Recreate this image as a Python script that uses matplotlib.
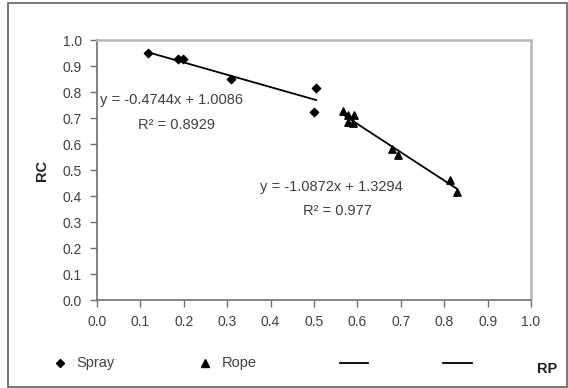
import matplotlib
matplotlib.use("Agg")
import matplotlib.pyplot as plt
from matplotlib.lines import Line2D
from matplotlib.patches import Rectangle
import numpy as np

plt.rcParams['font.family'] = ['Liberation Sans', 'DejaVu Sans']

# Data
spray_x = [0.117, 0.187, 0.198, 0.309, 0.505, 0.500]
spray_y = [0.950, 0.927, 0.927, 0.850, 0.815, 0.723]
rope_x = [0.567, 0.578, 0.592, 0.578, 0.590, 0.680, 0.694, 0.813, 0.830]
rope_y = [0.727, 0.712, 0.712, 0.685, 0.680, 0.580, 0.558, 0.460, 0.415]
spray_fit = (-0.4744, 1.0086)
rope_fit = (-1.0872, 1.3294)
spray_eq = "y = -0.4744x + 1.0086"
spray_r2 = "R² = 0.8929"
rope_eq = "y = -1.0872x + 1.3294"
rope_r2 = "R² = 0.977"
ticks = [round(0.1 * i, 1) for i in range(11)]
tick_labels = [f"{t:.1f}" for t in ticks]

W, H = 568, 388
fig = plt.figure(figsize=(W / 100, H / 100), dpi=100)
fig.patch.set_facecolor('white')

# outer border
fig.add_artist(Rectangle((8 / W, 1.5 / H), (W - 9.5) / W, (H - 4.5) / H,
                         transform=fig.transFigure, fill=False,
                         edgecolor='#606060', linewidth=1.2))

ax = fig.add_axes([97 / W, (H - 300) / H, 434 / W, 260 / H])
ax.set_xlim(0, 1)
ax.set_ylim(0, 1)
ax.set_xticks(ticks)
ax.set_yticks(ticks)
ax.set_xticklabels(tick_labels)
ax.set_yticklabels(tick_labels)
ax.tick_params(direction='out', length=5, width=1, color='#707070',
               labelsize=10, labelcolor='#404040', pad=6)
for s in ['left', 'bottom']:
    ax.spines[s].set_color('#707070')
    ax.spines[s].set_linewidth(1.2)
for s in ['top', 'right']:
    ax.spines[s].set_color('#b8b8b8')
    ax.spines[s].set_linewidth(1.8)

ax.scatter(spray_x, spray_y, marker='D', s=18, color='black', zorder=3, clip_on=False)
ax.scatter(rope_x, rope_y, marker='^', s=28, color='black', zorder=3, clip_on=False)

for xs, (m, b) in ((spray_x, spray_fit), (rope_x, rope_fit)):
    xx = np.array([min(xs), max(xs)])
    ax.plot(xx, m * xx + b, color='black', lw=1.3, zorder=2)

tc = '#404040'
ax.text(0.007, 0.77, spray_eq, fontsize=10.5, color=tc, ha='left', va='center')
ax.text(0.094, 0.673, spray_r2, fontsize=10.5, color=tc, ha='left', va='center')
ax.text(0.376, 0.435, rope_eq, fontsize=10.5, color=tc, ha='left', va='center')
ax.text(0.475, 0.342, rope_r2, fontsize=10.5, color=tc, ha='left', va='center')

# axis labels
fig.text(42 / W, 1 - 170 / H, 'RC', rotation=90, fontsize=10.5, fontweight='bold',
         color='#202020', ha='center', va='center')
fig.text(547 / W, 1 - 369 / H, 'RP', fontsize=10.5, fontweight='bold',
         color='#202020', ha='center', va='center')

# legend row
ly = 1 - 363 / H
fig.add_artist(Line2D([60 / W], [ly], marker='D', markersize=4, color='black',
                      linestyle='none', transform=fig.transFigure))
fig.text(76 / W, ly, 'Spray', fontsize=10.5, color=tc, ha='left', va='center')
fig.add_artist(Line2D([205 / W], [ly], marker='^', markersize=5.5, color='black',
                      linestyle='none', transform=fig.transFigure))
fig.text(222 / W, ly, 'Rope', fontsize=10.5, color=tc, ha='left', va='center')
fig.add_artist(Line2D([340 / W, 368 / W], [ly, ly], color='black', lw=1.3,
                      transform=fig.transFigure))
fig.add_artist(Line2D([443 / W, 472 / W], [ly, ly], color='black', lw=1.3,
                      transform=fig.transFigure))

fig.savefig('out.png', dpi=100, facecolor='white')
